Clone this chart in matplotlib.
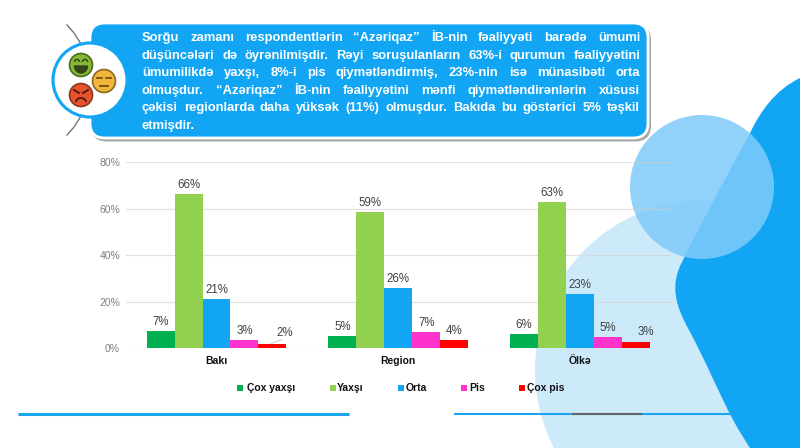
import matplotlib
matplotlib.use("Agg")
import matplotlib.pyplot as plt
from matplotlib.patches import Circle, FancyBboxPatch, PathPatch, Rectangle, Arc
from matplotlib.path import Path
import numpy as np

plt.rcParams['font.family'] = ['Liberation Sans', 'DejaVu Sans']
plt.rcParams['text.hinting'] = 'force_autohint'

categories = ["Bakı", "Region", "Ölkə"]
series_names = ["Çox yaxşı", "Yaxşı", "Orta", "Pis", "Çox pis"]
cox_yaxsi = [7.3, 5.0, 6.2]
yaxsi = [66.3, 58.5, 62.8]
orta = [21.0, 26.0, 23.2]
pis = [3.3, 7.0, 4.8]
cox_pis = [1.9, 3.6, 2.7]
cox_yaxsi_labels = ["7%", "5%", "6%"]
yaxsi_labels = ["66%", "59%", "63%"]
orta_labels = ["21%", "26%", "23%"]
pis_labels = ["3%", "7%", "5%"]
cox_pis_labels = ["2%", "4%", "3%"]
y_ticks = [0, 20, 40, 60, 80]
text_lines = [
    "Sorğu zamanı respondentlərin “Azəriqaz” İB-nin fəaliyyəti barədə ümumi",
    "düşüncələri də öyrənilmişdir. Rəyi soruşulanların 63%-i qurumun fəaliyyətini",
    "ümumilikdə yaxşı, 8%-i pis qiymətləndirmiş, 23%-nin isə münasibəti orta",
    "olmuşdur. “Azəriqaz” İB-nin fəaliyyətini mənfi qiymətləndirənlərin xüsusi",
    "çəkisi regionlarda daha yüksək (11%) olmuşdur. Bakıda bu göstərici 5% təşkil",
    "etmişdir.",
]

colors = ["#00b050", "#92d050", "#12a5f4", "#ff33cc", "#ff0000"]
BLUE = "#12a5f4"
W, H = 800, 448

fig = plt.figure(figsize=(8, 4.48), dpi=100, facecolor="white")

# background and decoration, in pixel coordinates
bg = fig.add_axes([0, 0, 1, 1], zorder=0)
bg.set_xlim(0, W)
bg.set_ylim(H, 0)
bg.axis("off")

bg.add_patch(Circle((705, 370), 170, fc="#cdeafb", ec="none", zorder=1))
blob = Path(
    [(800, 78), (775, 90), (760, 112), (750, 133),
     (730, 170), (700, 225), (682, 262),
     (670, 285), (675, 305), (689, 330),
     (705, 360), (720, 395), (730, 414),
     (738, 430), (745, 440), (750, 448),
     (800, 448), (800, 78)],
    [Path.MOVETO, Path.CURVE4, Path.CURVE4, Path.CURVE4,
     Path.CURVE4, Path.CURVE4, Path.CURVE4,
     Path.CURVE4, Path.CURVE4, Path.CURVE4,
     Path.CURVE4, Path.CURVE4, Path.CURVE4,
     Path.CURVE4, Path.CURVE4, Path.CURVE4,
     Path.LINETO, Path.CLOSEPOLY])
bg.add_patch(PathPatch(blob, fc=BLUE, ec="none", zorder=2))
bg.add_patch(Circle((702, 187), 72, fc="#7fcbfa", ec="none", alpha=0.85, zorder=3))

# bottom rules
bg.plot([18, 349], [414, 414], color="#1ba6ee", lw=2.2, solid_capstyle="butt", zorder=4)
bg.plot([454, 732], [414, 414], color="#1ba6ee", lw=1.5, solid_capstyle="butt", zorder=4)
bg.plot([572, 642], [414, 414], color="#666666", lw=1.5, solid_capstyle="butt", zorder=5)

# callout box
bg.add_patch(FancyBboxPatch((91, 25), 560, 116.5, boxstyle="round,pad=0,rounding_size=16",
                            fc="#a8a8a8", ec="none", zorder=5))
bg.add_patch(FancyBboxPatch((90, 23), 558, 115, boxstyle="round,pad=0,rounding_size=15",
                            fc=BLUE, ec="white", lw=2, zorder=6))

# curved lines and emoji badge
bg.plot([67, 74, 81], [25, 33, 44], color="#777777", lw=1, zorder=5)
bg.plot([81, 74, 67], [116, 127, 135], color="#777777", lw=1, zorder=5)
bg.add_patch(Circle((90, 80), 37, fc="white", ec=BLUE, lw=2.2, zorder=7))


def face(x, y, fc, ec, kind):
    bg.add_patch(Circle((x, y), 11.5, fc=fc, ec=ec, lw=1.2, zorder=8))
    if kind == "happy":
        bg.add_patch(Arc((x - 4, y - 3), 5, 5, theta1=180, theta2=360, color="#33461a", lw=1.1, zorder=9))
        bg.add_patch(Arc((x + 4, y - 3), 5, 5, theta1=180, theta2=360, color="#33461a", lw=1.1, zorder=9))
        t = np.linspace(0, np.pi, 20)
        bg.fill(x + 6.5 * np.cos(t), y + 1 + 7 * np.sin(t), color="#33461a", zorder=9)
    elif kind == "flat":
        bg.plot([x - 7, x - 2], [y - 3, y - 3], color="#6a4a10", lw=1.2, zorder=9)
        bg.plot([x + 2, x + 7], [y - 3, y - 3], color="#6a4a10", lw=1.2, zorder=9)
        bg.plot([x - 4, x + 4], [y + 5, y + 5], color="#6a4a10", lw=1.3, zorder=9)
    else:
        bg.plot([x - 7, x - 2], [y - 5, y - 2], color="#4a1c10", lw=1.4, zorder=9)
        bg.plot([x + 7, x + 2], [y - 5, y - 2], color="#4a1c10", lw=1.4, zorder=9)
        bg.add_patch(Arc((x, y + 7), 10, 8, theta1=180, theta2=360, color="#4a1c10", lw=1.3, zorder=9))


face(81, 65, "#86b833", "#4f6b22", "happy")
face(104, 81, "#f2b53c", "#8a6a22", "flat")
face(81, 95, "#e8532c", "#8a3a1c", "angry")

# justified callout text, word by word, on one whole-pixel baseline per line
fig.canvas.draw()
renderer = fig.canvas.get_renderer()
x0, x1 = 142, 640
line_y = [41, 59, 76, 94, 111, 129]
for i, line in enumerate(text_lines):
    words = line.split(" ")
    items = [bg.text(0, line_y[i], w, color="white", fontsize=9.4, fontweight="bold",
                     va="baseline", ha="left", zorder=10) for w in words]
    widths = [t.get_window_extent(renderer).width for t in items]
    if i < len(text_lines) - 1:
        gap = (x1 - x0 - sum(widths)) / (len(words) - 1)
    else:
        gap = 3
    x = x0
    for t, w in zip(items, widths):
        t.set_x(x)
        x += w + gap

# chart
ax = fig.add_axes([125.6 / W, 1 - 348 / H, 545.4 / W, 185.5 / H], zorder=2)
ax.patch.set_alpha(0)
all_values = [cox_yaxsi, yaxsi, orta, pis, cox_pis]
all_labels = [cox_yaxsi_labels, yaxsi_labels, orta_labels, pis_labels, cox_pis_labels]
xs = np.arange(len(categories))
bar_w = 0.154
for j, vals in enumerate(all_values):
    offs = xs + (j - 2) * bar_w
    ax.bar(offs, vals, bar_w, color=colors[j], zorder=3)
    for k, v in enumerate(vals):
        dx, dy = 0, 2.2
        if j == 4 and k == 0:
            dx, dy = 8.5, 3
        if j == 4 and k == 2:
            dx, dy = 7, 3
        ax.annotate(all_labels[j][k], (offs[k], v), xytext=(dx, dy), textcoords="offset points",
                    ha="center", va="bottom", fontsize=8.3, color="#404040", zorder=4)
# leader line of the small Bakı label
ax.plot([xs[0] + 2 * bar_w - 0.01, xs[0] + 2 * bar_w + 0.05], [cox_pis[0], cox_pis[0] + 1.8],
        color="#d9c8b8", lw=0.7, zorder=4)

ax.set_xlim(-0.5, 2.5)
ax.set_ylim(0, 80)
ax.set_yticks(y_ticks)
ax.set_yticklabels([f"{t}%" for t in y_ticks], fontsize=7.5, color="#7f7f7f")
ax.set_xticks(xs)
ax.set_xticklabels(categories, fontsize=7.5, fontweight="bold", color="#111111")
ax.tick_params(length=0)
ax.tick_params(axis="x", pad=5.5)
ax.tick_params(axis="y", pad=4)
ax.grid(axis="y", color="#d0d0d0", alpha=0.6, lw=0.9, zorder=0)
ax.set_axisbelow(True)
for s in ax.spines.values():
    s.set_visible(False)

# legend, spaced as in the slide
leg = fig.add_axes([0, 0, 1, 1], zorder=3)
leg.set_xlim(0, W)
leg.set_ylim(H, 0)
leg.axis("off")
swatch_x = [237, 330, 398, 461, 519]
label_x = [247, 337, 406, 469, 527]
for name, c, sx, lx in zip(series_names, colors, swatch_x, label_x):
    leg.add_patch(Rectangle((sx, 385), 6, 6, fc=c, ec="none"))
    leg.text(lx, 391, name, fontsize=7.5, fontweight="bold", color="#111111", va="baseline", ha="left")

fig.savefig("out.png", dpi=100)
